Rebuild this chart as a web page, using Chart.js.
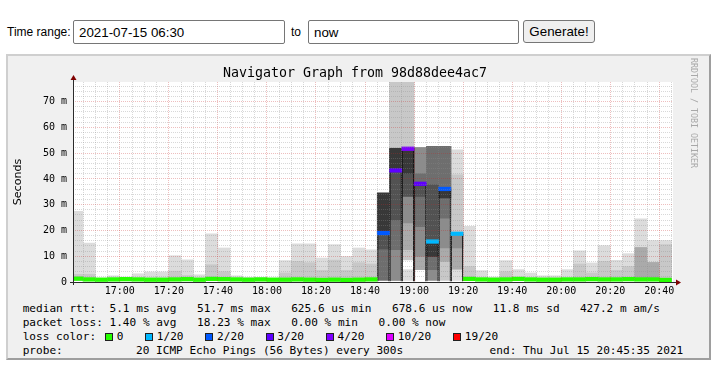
<!DOCTYPE html>
<html>
<head>
<meta charset="utf-8">
<title>Navigator Graph</title>
<script src="https://cdn.jsdelivr.net/npm/chart.js@4.4.1/dist/chart.umd.min.js"></script>
<style>
  html, body { margin:0; padding:0; background:#ffffff; }
  body { width:712px; height:367px; position:relative; overflow:hidden; }
  .lbl { position:absolute; font-family:"Liberation Sans", Arial, sans-serif; font-size:12px; line-height:14px; color:#000; }
  input.tr { position:absolute; top:20px; height:24px; box-sizing:border-box; border:1px solid #767676; border-radius:2px; padding:1px 5px; margin:0;
             font-family:"Liberation Sans", Arial, sans-serif; font-size:13.33px; color:#000; background:#fff; }
  button.gen { position:absolute; left:523px; top:20px; width:72px; height:23px; box-sizing:border-box; border:1px solid #767676; border-radius:3px;
               background:#efefef; font-family:"Liberation Sans", Arial, sans-serif; font-size:13.33px; color:#000; padding:0; margin:0; }
  #panel { position:absolute; left:6px; top:54px; width:705px; height:306px; box-sizing:border-box; border-style:solid; border-width:2px;
           border-color:#cfcfcf #9e9e9e #9e9e9e #cfcfcf; background:#f0f0f0; }
  #c { position:absolute; left:8px; top:56px; }
  #title { position:absolute; left:8px; width:694px; top:65px; text-align:center; font-family:"DejaVu Sans Mono", monospace; font-size:13.3px; line-height:16px; color:#000; white-space:pre; }
  .leg { position:absolute; font-family:"DejaVu Sans Mono", monospace; font-size:11.1px; line-height:14px; color:#000; white-space:pre; }
  .sq { position:absolute; width:6px; height:6px; border:1px solid #202020; top:333px; }
  #wm { position:absolute; left:690px; top:58px; writing-mode:vertical-rl; font-family:"DejaVu Sans Mono", monospace; font-size:8.3px; line-height:8px; color:#a8a8a8; white-space:pre; }
</style>
</head>
<body>
<span class="lbl" style="left:7px;top:25px;">Time range:</span>
<input class="tr" style="left:73px;width:212px;" value="2021-07-15 06:30">
<span class="lbl" style="left:291px;top:25px;">to</span>
<input class="tr" style="left:308px;width:211px;" value="now">
<button class="gen">Generate!</button>

<div id="panel"></div>
<canvas id="c" width="694" height="244"></canvas>
<div id="title">Navigator Graph from 98d88dee4ac7</div>
<span id="wm">RRDTOOL / TOBI OETIKER</span>

<span class="leg" style="left:22.7px;top:302px">median rtt:  5.1 ms avg</span>
<span class="leg" style="left:197.1px;top:302px">51.7 ms max</span>
<span class="leg" style="left:291.2px;top:302px">625.6 us min</span>
<span class="leg" style="left:392px;top:302px">678.6 us now</span>
<span class="leg" style="left:492.8px;top:302px">11.8 ms sd</span>
<span class="leg" style="left:579.9px;top:302px">427.2 m am/s</span>

<span class="leg" style="left:22.7px;top:316px">packet loss: 1.40 % avg</span>
<span class="leg" style="left:197.1px;top:316px">18.23 % max</span>
<span class="leg" style="left:291.2px;top:316px">0.00 % min</span>
<span class="leg" style="left:378.6px;top:316px">0.00 % now</span>

<span class="leg" style="left:22.7px;top:330px">loss color:</span>
<span class="sq" style="left:105px;background:#26ff00"></span><span class="leg" style="left:116.7px;top:330px">0</span>
<span class="sq" style="left:145.1px;background:#00b8ff"></span><span class="leg" style="left:156.8px;top:330px">1/20</span>
<span class="sq" style="left:205.4px;background:#0059ff"></span><span class="leg" style="left:217.1px;top:330px">2/20</span>
<span class="sq" style="left:265.6px;background:#5e00ff"></span><span class="leg" style="left:277.3px;top:330px">3/20</span>
<span class="sq" style="left:325.9px;background:#7e00ff"></span><span class="leg" style="left:337.6px;top:330px">4/20</span>
<span class="sq" style="left:386.1px;background:#dd00ff"></span><span class="leg" style="left:397.8px;top:330px">10/20</span>
<span class="sq" style="left:453.1px;background:#ff0000"></span><span class="leg" style="left:464.8px;top:330px">19/20</span>

<span class="leg" style="left:22.7px;top:344px">probe:</span>
<span class="leg" style="left:136px;top:344px">20 ICMP Echo Pings (56 Bytes) every 300s</span>
<span class="leg" style="right:28.7px;top:344px">end: Thu Jul 15 20:45:35 2021</span>

<script>
// ---------------- DATA ----------------
const slotStart = ["16:40","16:45","16:50","16:55","17:00","17:05","17:10",
                   "17:15","17:20","17:25","17:30","17:35","17:40","17:45",
                   "17:50","17:55","18:00","18:05","18:10","18:15","18:20",
                   "18:25","18:30","18:35","18:40","18:45","18:50","18:55",
                   "19:00","19:05","19:10","19:15","19:20","19:25","19:30",
                   "19:35","19:40","19:45","19:50","19:55","20:00","20:05",
                   "20:10","20:15","20:20","20:25","20:30","20:35","20:40"];
const stepMinutes = 5;
const viewStart = "16:40:55";
const viewEnd = "20:45:35";
const yTopMs = 77.6;

// median rtt per 5-minute step (ms)
const medianMs = [1.3,1.0,0.9,1.0,1.1,1.0,0.9,
                  0.9,1.0,1.1,0.9,1.2,1.1,1.0,
                  0.9,1.0,0.9,0.9,1.0,0.9,0.8,
                  0.9,0.8,0.9,1.0,19.0,43.3,51.7,
                  38.1,15.7,36.1,18.7,1.2,1.0,0.9,
                  1.0,1.2,1.0,0.9,0.9,1.0,1.0,
                  1.1,1.0,1.0,1.1,1.0,1.0,0.8];
// lost pings out of 20 per step
const lossOf20 = [0,0,0,0,0,0,0,
                  0,0,0,0,0,0,0,
                  0,0,0,0,0,0,0,
                  0,0,0,0,2,3,3.65,
                  3,1,2,1,0,0,0,
                  0,0,0,0,0,0,0,
                  0,0,0,0,0,0,0];
const lossThresholds = [0, 1, 2, 3, 4, 10, 19];

// smoke layers: [step start, low ms, high ms]; layer 1 = outermost ping spread
const smoke1 = [["16:40",0.6,27.4],["16:45",0.6,15.1],["16:50",0.6,1.5],["16:55",0.6,2.4],["17:00",0.6,1.9],
  ["17:05",0.6,3.2],["17:10",0.6,3.9],["17:15",0.6,3.9],["17:20",0.6,10.2],["17:25",0.6,8.6],["17:30",0.6,2.8],
  ["17:35",0.6,18.7],["17:40",0.6,13.2],["17:45",0.6,2.4],["17:50",0.6,1.8],["17:55",0.6,1.8],["18:00",0.6,1.5],
  ["18:05",0.6,8.3],["18:10",0.6,14.8],["18:15",0.6,14.8],["18:20",0.6,9.3],["18:25",0.6,14.5],["18:30",0.6,9.9],
  ["18:35",0.6,13.2],["18:40",0.6,12.5],["18:50",0.6,77.6],["18:55",0.6,4.8],["19:15",0.6,51.3],["19:20",0.6,21.6],
  ["19:25",0.6,4.4],["19:30",0.6,1.9],["19:35",0.6,8.3],["19:40",0.6,4.8],["19:45",0.6,3.5],["19:50",0.6,2.4],
  ["19:55",0.6,2.4],["20:00",0.6,4.8],["20:05",0.6,12.1],["20:10",0.6,7.4],["20:15",0.6,14.1],["20:20",0.6,8.4],
  ["20:25",0.6,11.0],["20:30",0.6,24.5],["20:35",0.6,16.1],["20:40",0.6,16.1]];
const smoke2 = [["16:40",0.6,3.0],["16:45",0.6,3.0],["17:20",0.6,4.2],["17:25",0.6,2.5],["17:35",0.6,6.7],
  ["17:40",0.6,4.0],["18:05",0.6,3.5],["18:10",0.6,8.0],["18:15",0.6,7.5],["18:20",0.6,4.5],["18:25",0.6,8.5],
  ["18:30",0.6,4.5],["18:35",0.6,7.5],["18:40",0.6,7.0],["18:50",0.6,77.6],["18:55",8.6,77.6],["19:10",0.6,52.6],
  ["19:15",5.0,41.6],["19:20",0.6,6.0],["19:35",0.6,4.0],["20:05",0.6,7.0],["20:10",0.6,3.5],["20:15",0.6,8.0],
  ["20:20",0.6,4.5],["20:25",0.6,6.0],["20:40",0.6,14.5]];
const smoke3 = [["18:55",12.5,51.9],["19:00",4.8,52.2],["19:10",8.0,52.6],["19:15",5.0,18.7],["20:30",0.6,13.4],["20:35",0.6,7.6]];
const smoke4 = [["18:50",0.6,51.9],["18:55",22.9,51.9],["19:00",9.9,52.2],["19:05",0.6,52.6],["19:10",13.2,52.6],["19:15",13.2,18.7]];
const smoke5 = [["18:45",0.6,34.5],["18:50",12.5,51.9],["19:00",21.5,42.0],["19:05",4.8,52.6],["19:10",24.8,52.6]];
const smoke6 = [["18:45",12.8,34.5],["18:50",24.1,51.9],["18:55",33.2,51.9],["19:00",33.2,38.4],["19:05",9.9,37.7]];
const smoke7 = [["18:45",19.0,34.5],["18:50",43.5,51.9],["18:55",42.2,51.9],["19:05",9.9,15.7],["19:10",32.6,36.1]];

// ---------------- STYLE ----------------
const smokeColors = ['#dcdcdc','#c8c8c8','#aaaaaa','#8c8c8c','#6e6e6e','#525252','#383838'];
const lossColors = ['#26ff00','#00b8ff','#0059ff','#5e00ff','#7e00ff','#dd00ff','#ff0000'];
const medianHalfBand = 0.7;
const gridMinor = 'rgba(140,140,140,0.34)';
const gridMajor = 'rgba(200,40,40,0.3)';
const monoFont = "'DejaVu Sans Mono', monospace";

// ---------------- BUILD ----------------
const toMin = s => { const p = s.split(':').map(Number); return p[0]*60 + p[1] + (p[2] || 0)/60; };
const slotCenter = s => toMin(s) + stepMinutes/2;
const xMin = toMin(viewStart), xMax = toMin(viewEnd);
const lossColor = l => {
  if (l <= lossThresholds[0]) return lossColors[0];
  for (let i = 1; i < lossThresholds.length; i++) if (l <= lossThresholds[i]) return lossColors[i];
  return lossColors[lossColors.length - 1];
};
const fmtTime = v => { const h = Math.floor(v/60), m = Math.round(v - h*60); return String(h).padStart(2,'0') + ':' + String(m).padStart(2,'0'); };

const barCommon = { type:'bar', grouped:false, barPercentage:1, categoryPercentage:1, borderWidth:0 };
const datasets = [];
[smoke1, smoke2, smoke3, smoke4, smoke5, smoke6, smoke7].forEach((layer, k) => {
  datasets.push(Object.assign({}, barCommon, {
    label: 'smoke ' + (k+1),
    data: layer.map(([s, lo, hi]) => ({ x: slotCenter(s), y: [lo, hi] })),
    backgroundColor: smokeColors[k],
    order: 20 - k
  }));
});
datasets.push(Object.assign({}, barCommon, {
  label: 'median step',
  data: slotStart.map((s, i) => lossOf20[i] > 0 ? { x: slotCenter(s), y: [0, medianMs[i]] } : null).filter(Boolean),
  backgroundColor: 'rgba(0,0,0,0)',
  borderColor: '#141414',
  borderWidth: { left:1, right:1, top:0, bottom:0 },
  borderSkipped: false,
  inflateAmount: 0,
  order: 2
}));
datasets.push(Object.assign({}, barCommon, {
  label: 'median rtt',
  data: slotStart.map((s, i) => ({ x: slotCenter(s), y: [medianMs[i] - medianHalfBand, medianMs[i] + medianHalfBand] })),
  backgroundColor: ctx => lossColor(lossOf20[ctx.dataIndex]),
  order: 1
}));

const plotBg = { id:'plotBg', beforeDraw(chart) {
  const { ctx, chartArea: a } = chart;
  ctx.save(); ctx.fillStyle = '#ffffff'; ctx.fillRect(a.left, a.top, a.right - a.left, a.bottom - a.top); ctx.restore();
}};
const axesDeco = { id:'axesDeco', afterDraw(chart) {
  const { ctx, chartArea: a } = chart;
  const L = Math.round(a.left) + 0.5, B = Math.round(a.bottom) + 0.5;
  ctx.save();
  ctx.strokeStyle = '#2a2a2a'; ctx.lineWidth = 1;
  ctx.beginPath();
  ctx.moveTo(a.left - 3, B); ctx.lineTo(a.right + 3, B);
  ctx.moveTo(L, a.bottom + 3); ctx.lineTo(L, a.top - 3);
  ctx.stroke();
  ctx.fillStyle = '#7f0000';
  ctx.beginPath(); ctx.moveTo(a.right + 3, B - 3); ctx.lineTo(a.right + 8, B); ctx.lineTo(a.right + 3, B + 3); ctx.closePath(); ctx.fill();
  ctx.beginPath(); ctx.moveTo(L - 3, a.top - 2); ctx.lineTo(L, a.top - 7); ctx.lineTo(L + 3, a.top - 2); ctx.closePath(); ctx.fill();
  ctx.restore();
}};

new Chart(document.getElementById('c'), {
  type: 'bar',
  data: { datasets },
  plugins: [plotBg, axesDeco],
  options: {
    responsive: false, animation: false, devicePixelRatio: 1,
    layout: { padding: { left:0, right:29, top:26, bottom:0 } },
    plugins: { legend: { display:false }, tooltip: { enabled:false }, title: { display:false } },
    scales: {
      x: {
        type:'linear', min:xMin, max:xMax, bounds:'data', offset:false,
        afterBuildTicks: ax => {
          const t = [];
          for (let v = Math.ceil(xMin / stepMinutes) * stepMinutes; v <= xMax; v += stepMinutes) t.push({ value: v });
          ax.ticks = t;
        },
        afterFit: ax => { ax.height = 18; },
        grid: { offset:false, drawTicks:false, z:1, lineWidth:1,
                color: c => (c.tick && c.tick.value % 20 === 0) ? gridMajor : gridMinor },
        border: { display:false, dash:[1,1] },
        ticks: { autoSkip:false, maxRotation:0, minRotation:0, padding:3, color:'#000',
                 font: { family: monoFont, size:10 },
                 callback: v => (v % 20 === 0) ? fmtTime(v) : '' }
      },
      y: {
        type:'linear', min:0, max:yTopMs, bounds:'data', beginAtZero:true,
        afterFit: ax => { ax.width = 65; },
        title: { display:true, text:'Seconds', color:'#000', font: { family:"'DejaVu Sans', sans-serif", size:11.1 }, padding: { top:3, bottom:0 } },
        grid: { drawTicks:false, z:1, lineWidth:1,
                color: c => (c.tick && c.tick.value % 10 === 0) ? gridMajor : gridMinor },
        border: { display:false, dash:[1,1] },
        ticks: { stepSize:2, includeBounds:false, autoSkip:false, padding:6, color:'#000',
                 font: { family: monoFont, size:10 },
                 callback: v => (v % 10 === 0) ? (v === 0 ? '0' : v + ' m') : '' }
      }
    }
  }
});
</script>
</body>
</html>
